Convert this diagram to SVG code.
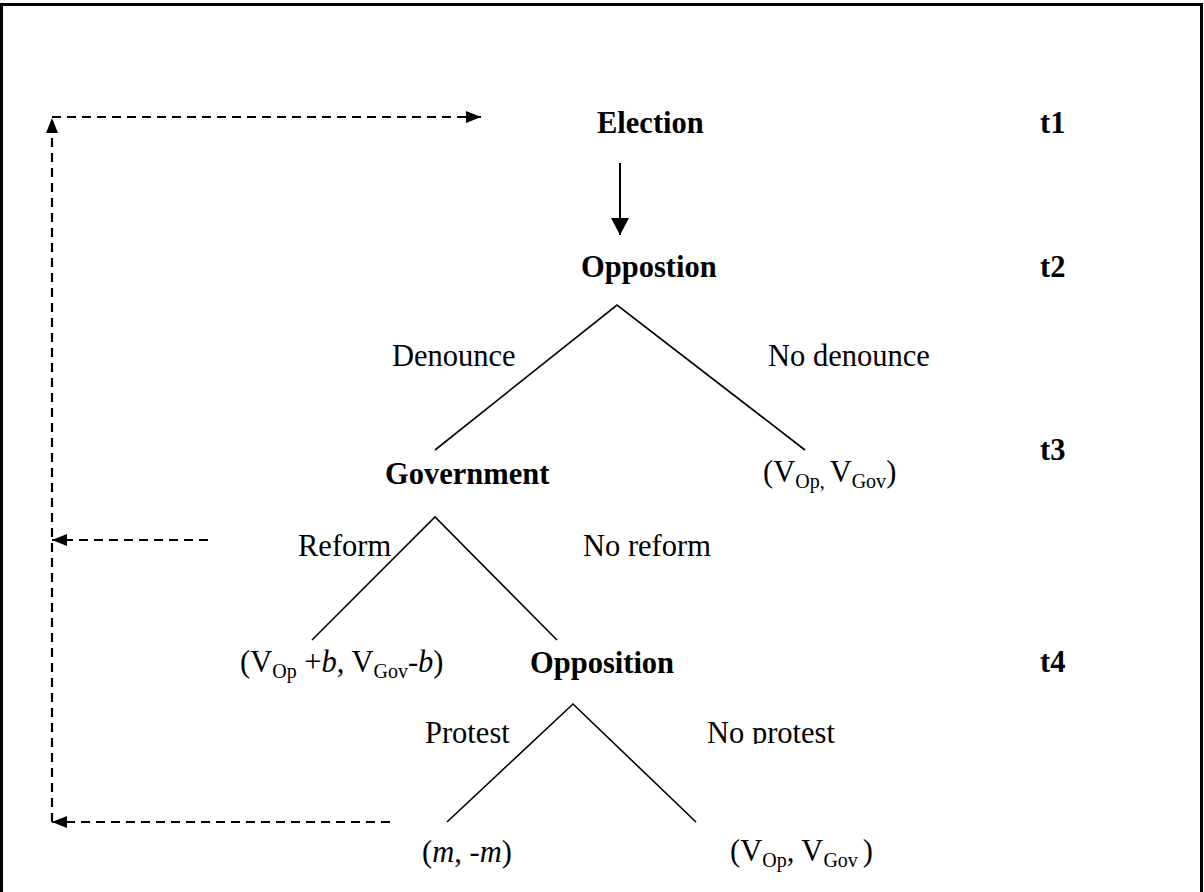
<svg xmlns="http://www.w3.org/2000/svg" width="1204" height="892" viewBox="0 0 1204 892">
<style>
text{font-family:"Liberation Serif","Times New Roman",serif;font-size:30.5px;fill:#000}
.b{font-weight:bold}
.i{font-style:italic}
.tree{stroke:#000;stroke-width:1.6;fill:none}
.dash{stroke:#000;stroke-width:2.2;stroke-dasharray:9 6;fill:none}
</style>
<defs>
<marker id="ah" markerUnits="userSpaceOnUse" markerWidth="16" markerHeight="14" refX="15" refY="7" orient="auto">
<path d="M0,1 L15,7 L0,13 Z" fill="#000"/>
</marker>
<marker id="ahs" markerUnits="userSpaceOnUse" markerWidth="18" markerHeight="20" refX="17" refY="9" orient="auto">
<path d="M0,0 L17,9 L0,18 Z" fill="#000"/>
</marker>
<clipPath id="npclip"><rect x="690" y="700" width="200" height="44"/></clipPath>
</defs>
<rect width="1204" height="892" fill="#fff"/>
<path d="M1.5,892 V4.5 H1201.5 V892" stroke="#000" stroke-width="3" fill="none"/>

<g id="connectors">
<line class="dash" x1="52" y1="822" x2="52" y2="118" marker-end="url(#ah)"/>
<line class="dash" x1="52" y1="117" x2="481" y2="117" marker-end="url(#ah)"/>
<line class="dash" x1="208" y1="540" x2="52" y2="540" marker-end="url(#ah)"/>
<line class="dash" x1="390" y1="822" x2="52" y2="822" marker-end="url(#ah)"/>
<line x1="620" y1="163" x2="620" y2="235" stroke="#000" stroke-width="2" marker-end="url(#ahs)"/>
<polyline class="tree" points="435,450 617,305 805,450"/>
<polyline class="tree" points="312,640 435,517 557,640"/>
<polyline class="tree" points="447,822 573,704 696,822"/>
</g>

<g id="election"><text class="b" x="597" y="133">Election</text></g>
<g id="oppostion"><text class="b" x="581" y="277">Oppostion</text></g>
<g id="government"><text class="b" x="385" y="484">Government</text></g>
<g id="payoff-nodenounce"><text x="763" y="482">(V<tspan font-size="20" dy="6">Op, </tspan><tspan dy="-6">V</tspan><tspan font-size="20" dy="6">Gov</tspan><tspan dy="-6">)</tspan></text></g>
<g id="payoff-reform"><text x="240" y="672">(V<tspan font-size="20" dy="6">Op</tspan><tspan dy="-6"> +</tspan><tspan class="i">b</tspan>, V<tspan font-size="20" dy="6">Gov</tspan><tspan dy="-6">-</tspan><tspan class="i">b</tspan>)</text></g>
<g id="opposition"><text class="b" x="530" y="673">Opposition</text></g>
<g id="payoff-protest"><text x="422" y="862">(<tspan class="i">m</tspan>, -<tspan class="i">m</tspan>)</text></g>
<g id="payoff-noprotest"><text x="730" y="861">(V<tspan font-size="20" dy="6">Op</tspan><tspan dy="-6">, V</tspan><tspan font-size="20" dy="6">Gov </tspan><tspan dy="-6">)</tspan></text></g>

<g id="labels">
<text x="392" y="366">Denounce</text>
<text x="768" y="366">No denounce</text>
<text x="298" y="556">Reform</text>
<text x="583" y="556">No reform</text>
<text x="425" y="743">Protest</text>
<text x="707" y="743" clip-path="url(#npclip)">No protest</text>
</g>

<g id="times">
<text class="b" x="1040" y="133">t1</text>
<text class="b" x="1040" y="277">t2</text>
<text class="b" x="1040" y="460">t3</text>
<text class="b" x="1040" y="672">t4</text>
</g>
</svg>
